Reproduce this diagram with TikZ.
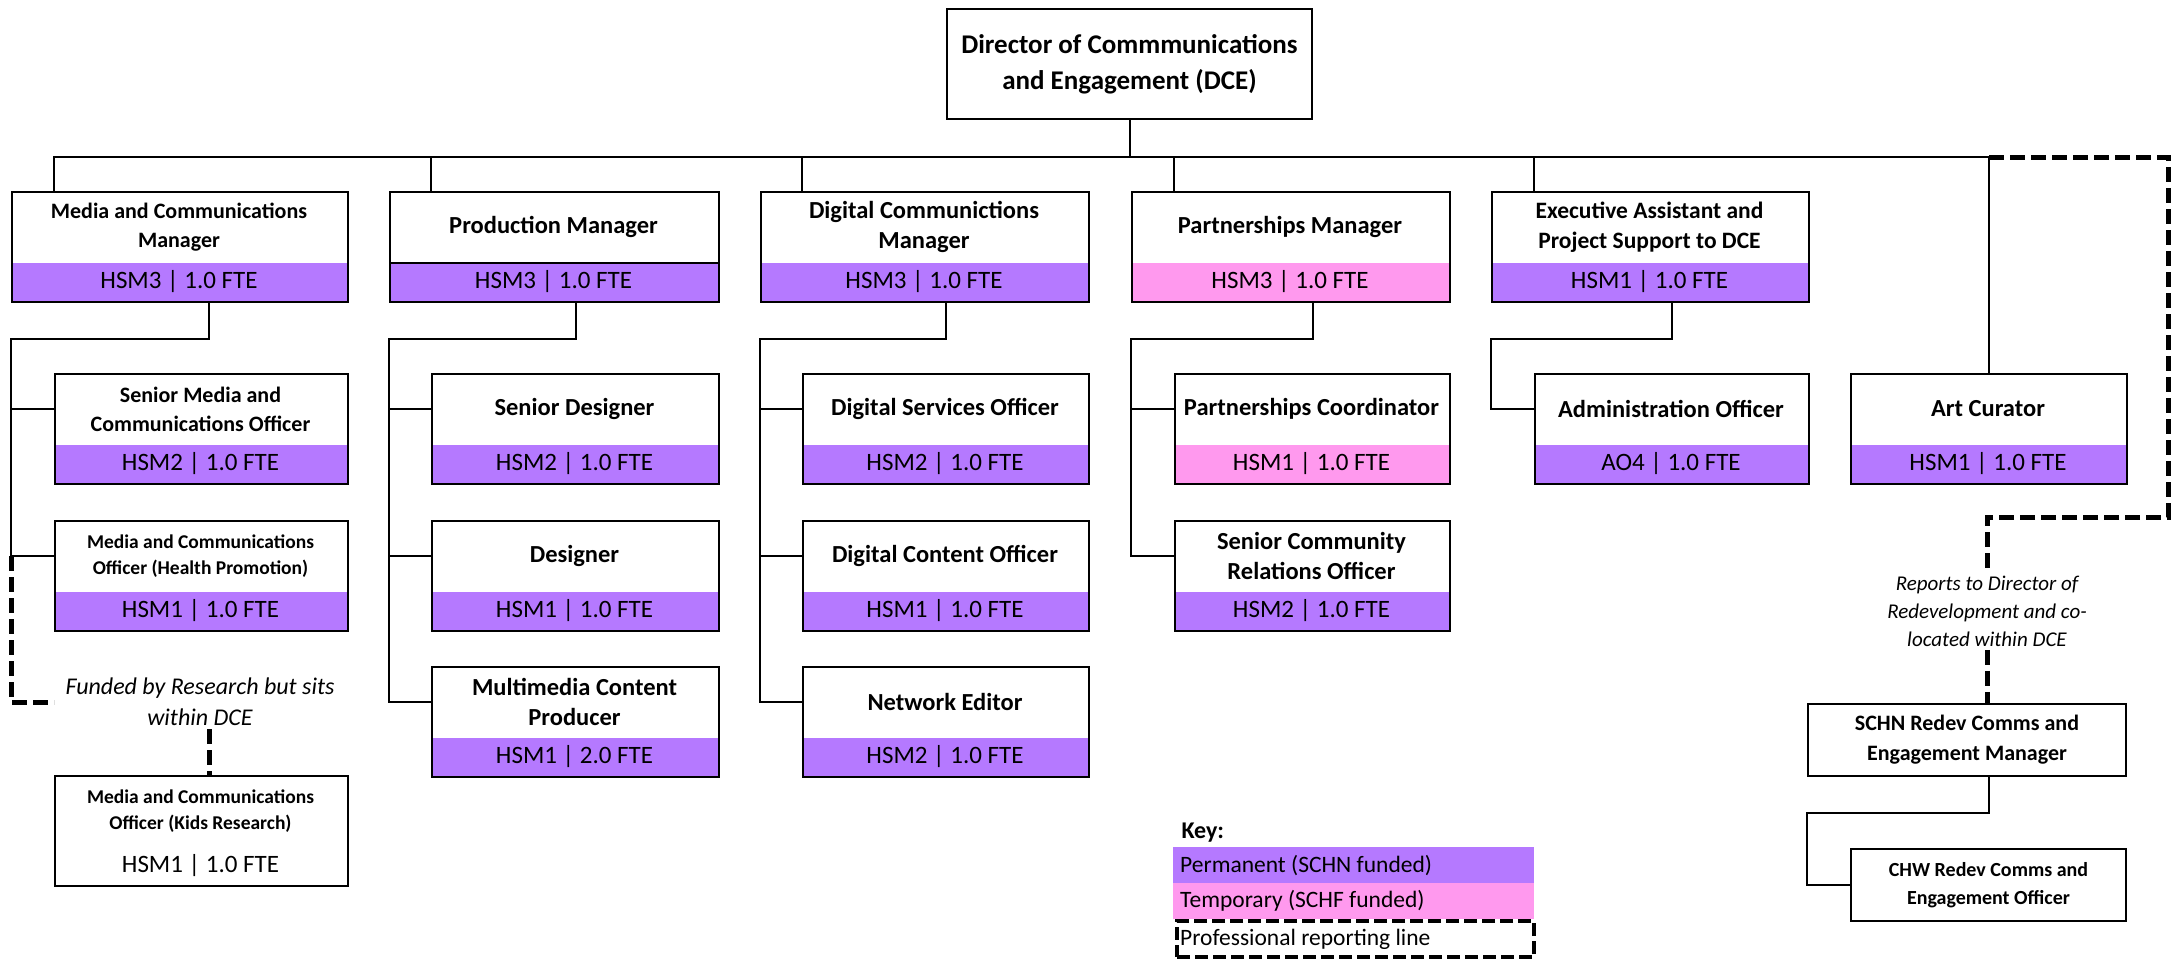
\documentclass[tikz,border=0pt]{standalone}
\usepackage{fontspec}
\setmainfont{Carlito}
\usetikzlibrary{calc}
\definecolor{perm}{HTML}{B579FF}
\definecolor{temp}{HTML}{FF99EE}
\tikzset{
 obox/.style={draw, line width=2, inner sep=0},
 conn/.style={line width=2},
 prof/.style={line width=5, dash pattern=on 15 off 6},
 tdir/.style={align=center, font=\bfseries\fontsize{27}{36}\selectfont},
 tbig/.style={align=center, font=\bfseries\fontsize{24.5}{30}\selectfont},
 tmid/.style={align=center, font=\bfseries\fontsize{23.5}{30}\selectfont},
 tsmall/.style={align=center, font=\bfseries\fontsize{22}{29}\selectfont},
 tkid/.style={align=center, font=\bfseries\fontsize{19.5}{26}\selectfont},
 band/.style={font=\fontsize{25}{30}\selectfont},
 note/.style={align=center, font=\itshape\fontsize{24}{31}\selectfont},
 notetwo/.style={align=center, font=\itshape\fontsize{21}{28}\selectfont},
 keyrow/.style={minimum width=361, minimum height=36, anchor=north west, inner sep=0},
 keytext/.style={anchor=west, inner sep=0, font=\fontsize{23.5}{28}\selectfont},
}
\newcommand\obox[8]{%
  \fill[#8] (#2,#3+72) rectangle (#2+#4,#3+110);
  \node[obox, minimum width=#4, minimum height=110, anchor=north west] (#1) at (#2,#3) {};
  \node[#5] (#1-t) at (#2+#4/2,#3+36) {#6};
  \node[band] (#1-b) at (#2+#4/2,#3+91) {#7};
  \coordinate (#1-tw) at (#2,#3+36);
}
\begin{document}
\begin{tikzpicture}[x=1pt,y=-1pt]
\useasboundingbox (0,0) rectangle (2172,959);
\node[obox, tdir, minimum width=365, minimum height=110, anchor=north west] (dce) at (946,8) {Director of Commmunications\\and Engagement (DCE)};
% row 1
\obox{b1}{11}{191}{336}{tsmall}{Media and Communications\\Manager}{HSM3 | 1.0 FTE}{perm}
\obox{b2}{389}{191}{329}{tbig}{Production Manager}{HSM3 | 1.0 FTE}{perm}
\obox{b3}{760}{191}{328}{tbig}{Digital Communictions\\Manager}{HSM3 | 1.0 FTE}{perm}
\obox{b4}{1131}{191}{318}{tbig}{Partnerships Manager}{HSM3 | 1.0 FTE}{temp}
\obox{b5}{1491}{191}{317}{tmid}{Executive Assistant and\\Project Support to DCE}{HSM1 | 1.0 FTE}{perm}
\draw[line width=2] ($(b2.north west)+(0,72)$) -- ($(b2.north east)+(0,72)$);
% row 2
\obox{c11}{54}{373}{293}{tsmall}{Senior Media and\\Communications Officer}{HSM2 | 1.0 FTE}{perm}
\obox{c21}{431}{373}{287}{tbig}{Senior Designer}{HSM2 | 1.0 FTE}{perm}
\obox{c31}{802}{373}{286}{tbig}{Digital Services Officer}{HSM2 | 1.0 FTE}{perm}
\obox{c41}{1174}{373}{275}{tbig}{Partnerships Coordinator}{HSM1 | 1.0 FTE}{temp}
\obox{c51}{1534}{373}{274}{tbig}{Administration Officer}{AO4 | 1.0 FTE}{perm}
\obox{art}{1850}{373}{276}{tbig}{Art Curator}{HSM1 | 1.0 FTE}{perm}
% row 3
\obox{c12}{54}{520}{293}{tkid}{Media and Communications\\Officer (Health Promotion)}{HSM1 | 1.0 FTE}{perm}
\obox{c22}{431}{520}{287}{tbig}{Designer}{HSM1 | 1.0 FTE}{perm}
\obox{c32}{802}{520}{286}{tbig}{Digital Content Officer}{HSM1 | 1.0 FTE}{perm}
\obox{c42}{1174}{520}{275}{tbig}{Senior Community\\Relations Officer}{HSM2 | 1.0 FTE}{perm}
% row 4
\obox{c23}{431}{666}{287}{tbig}{Multimedia Content\\Producer}{HSM1 | 2.0 FTE}{perm}
\obox{c33}{802}{666}{286}{tbig}{Network Editor}{HSM2 | 1.0 FTE}{perm}
% kids research
\obox{kid}{54}{775}{293}{tkid}{Media and Communications\\Officer (Kids Research)}{HSM1 | 1.0 FTE}{white}
% redevelopment
\node[obox, align=center, font=\bfseries\fontsize{22}{30}\selectfont, minimum width=318, minimum height=72, anchor=north west] (schn) at (1807,703) {SCHN Redev Comms and\\Engagement Manager};
\node[obox, align=center, font=\bfseries\fontsize{20}{28}\selectfont, minimum width=275, minimum height=72, anchor=north west] (chw) at (1850,848) {CHW Redev Comms and\\Engagement Officer};

% connectors from director
\coordinate (bus) at ($(dce.south)+(0,37)$);
\draw[conn] (dce.south) -- (bus);
\coordinate (d1) at ($(b1.north west)+(43,0)$);
\coordinate (d2) at ($(b2.north west)+(42,0)$);
\coordinate (d3) at ($(b3.north west)+(42,0)$);
\coordinate (d4) at ($(b4.north west)+(43,0)$);
\coordinate (d5) at ($(b5.north west)+(43,0)$);
\draw[conn] (d1) |- (bus) -| (art.north);
\draw[conn] (d2) -- (d2 |- bus);
\draw[conn] (d3) -- (d3 |- bus);
\draw[conn] (d4) -- (d4 |- bus);
\draw[conn] (d5) -- (d5 |- bus);

% column 1
\coordinate (m1) at ($(b1.south west)+(198,0)$);
\draw[conn] (m1) -- ++(0,36) -| (b1.west |- c12-tw) -- (c12-tw);
\draw[conn] (b1.west |- c11-tw) -- (c11-tw);
% column 2
\draw[conn] (c21.north |- b2.south) -- ++(0,36) -| (b2.west |- c23-tw) -- (c23-tw);
\draw[conn] (b2.west |- c21-tw) -- (c21-tw);
\draw[conn] (b2.west |- c22-tw) -- (c22-tw);
% column 3
\draw[conn] (c31.north |- b3.south) -- ++(0,36) -| (b3.west |- c33-tw) -- (c33-tw);
\draw[conn] (b3.west |- c31-tw) -- (c31-tw);
\draw[conn] (b3.west |- c32-tw) -- (c32-tw);
% column 4
\draw[conn] (c41.north |- b4.south) -- ++(0,36) -| (b4.west |- c42-tw) -- (c42-tw);
\draw[conn] (b4.west |- c41-tw) -- (c41-tw);
% column 5
\draw[conn] (c51.north |- b5.south) -- ++(0,36) -| (b5.west |- c51-tw) -- (c51-tw);
% redevelopment
\draw[conn] (chw.north |- schn.south) -- ++(0,36) -| (schn.west |- chw.west) -- (chw.west);

% professional reporting lines
\node[note] (fund) at (200,702) {Funded by Research but sits\\within DCE};
\coordinate (kidin) at ($(kid.north west)+(155,0)$);
\draw[prof] (b1.west |- c12-tw) |- (c12.west |- fund.west);
\draw[prof] (kidin |- fund.south) -- (kidin);

\node[notetwo] (rep) at (1987,611) {Reports to Director of\\Redevelopment and co-\\located within DCE};
\coordinate (rcorner) at (2168,517);
\draw[prof] (art.north |- bus) -| (rcorner) -| (rep.north);
\draw[prof] (rep.south) -- (rep.south |- schn.north);

% key
\node[anchor=base west, font=\bfseries\fontsize{24}{28}\selectfont] (key) at (1178,838) {Key:};
\node[keyrow, fill=perm] (k1) at (1173,847) {};
\node[keyrow, fill=temp] (k2) at (1173,883) {};
\node[keyrow, draw, line width=4, dash pattern=on 13 off 5, minimum width=357] (k3) at (1175,919) {};
\node[keytext] (k1t) at ($(k1.west)+(7,0)$) {Permanent (SCHN funded)};
\node[keytext] (k2t) at ($(k2.west)+(7,0)$) {Temporary (SCHF funded)};
\node[keytext] (k3t) at ($(k3.west)+(5,0)$) {Professional reporting line};
\end{tikzpicture}
\end{document}
